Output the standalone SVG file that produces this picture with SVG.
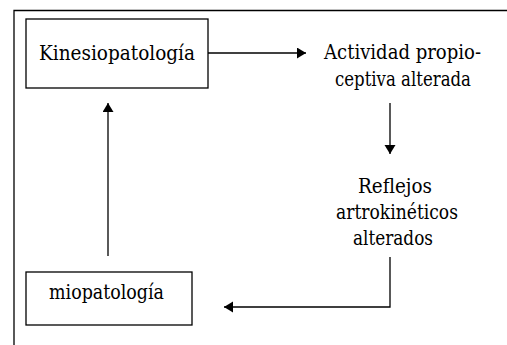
<svg xmlns="http://www.w3.org/2000/svg" width="507" height="345" viewBox="0 0 507 345">
<style>
text{font-family:'DejaVu Serif',serif;font-size:21px;fill:#000}
.box{fill:#fff;stroke:#000;stroke-width:1.3}
.ln{fill:none;stroke:#000;stroke-width:1.3}
</style>
<defs>
<marker id="ah" markerWidth="10" markerHeight="12" refX="9" refY="5.5" orient="auto" markerUnits="userSpaceOnUse">
<path d="M0,0 L9,5.5 L0,11 Z" fill="#000"/>
</marker>
</defs>
<rect width="507" height="345" fill="#fff"/>
<g id="frame">
<path class="ln" d="M14,345 V10.5 H507"/>
</g>
<g id="kinesiopatologia">
<rect class="box" x="26" y="19" width="182" height="69"/>
<text x="39" y="60" textLength="156" lengthAdjust="spacingAndGlyphs">Kinesiopatología</text>
</g>
<g id="actividad">
<text x="324" y="59" textLength="157" lengthAdjust="spacingAndGlyphs">Actividad propio-</text>
<text x="335" y="86" textLength="136" lengthAdjust="spacingAndGlyphs">ceptiva alterada</text>
</g>
<g id="reflejos">
<text x="358" y="193" textLength="74" lengthAdjust="spacingAndGlyphs">Reflejos</text>
<text x="336" y="219" textLength="122" lengthAdjust="spacingAndGlyphs">artrokinéticos</text>
<text x="353" y="245" textLength="80" lengthAdjust="spacingAndGlyphs">alterados</text>
</g>
<g id="miopatologia">
<rect class="box" x="26" y="272" width="166" height="53"/>
<text x="49" y="299" textLength="115" lengthAdjust="spacingAndGlyphs">miopatología</text>
</g>
<g id="connectors">
<path class="ln" d="M208,53 H306" marker-end="url(#ah)"/>
<path class="ln" d="M390,103 V154" marker-end="url(#ah)"/>
<path class="ln" d="M390,257 V307 H224" marker-end="url(#ah)"/>
<path class="ln" d="M108,256 V103" marker-end="url(#ah)"/>
</g>
</svg>
